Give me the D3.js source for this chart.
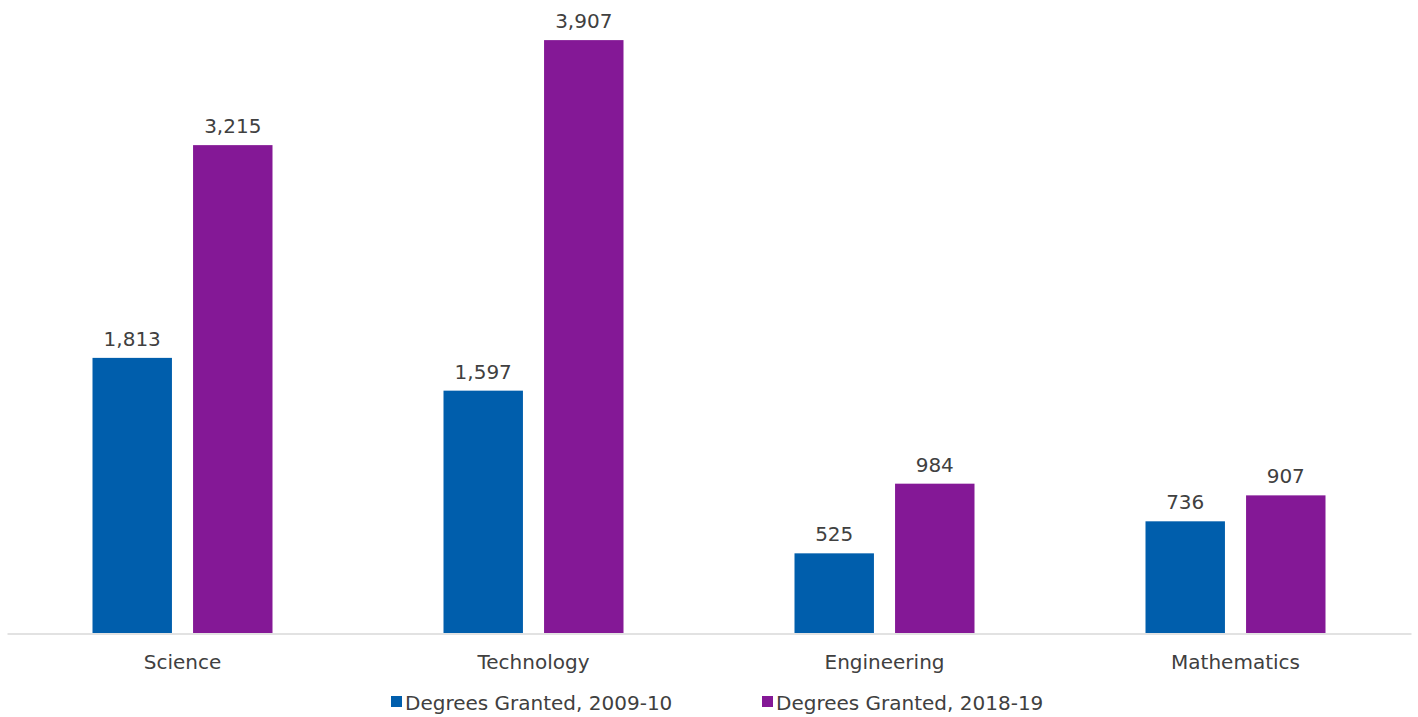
<!DOCTYPE html>
<html>
<head>
<meta charset="utf-8">
<script src="https://cdn.jsdelivr.net/npm/d3@7"></script>
<style>
  body { margin: 0; background: #fff; }
  svg { font-family: "DejaVu Sans", "Liberation Sans", sans-serif; }
</style>
</head>
<body>
<div id="chart"></div>
<script>
const categories = ['Science', 'Technology', 'Engineering', 'Mathematics'];
const seriesNames = ['Degrees Granted, 2009-10', 'Degrees Granted, 2018-19'];
const degrees0910 = [1813, 1597, 525, 736];
const degrees1819 = [3215, 3907, 984, 907];

const colors = ['#005eac', '#841896'];

const width = 1418;
const height = 717;
const margin = {top: 26, bottom: 84, left: 7, right: 7};

const data = categories.map((c, i) => ({
    category: c,
    values: [degrees0910[i], degrees1819[i]]
}));

const svg = d3.select('#chart')
.append('svg')
.attr('width', width)
.attr('height', height)
.attr('viewBox', [0, 0, width, height]);

const x = d3.scaleBand()
.domain(categories)
.range([margin.left, width - margin.right]);

const x1 = d3.scaleBand()
.domain([0, 1])
.range([x.bandwidth() / 2 - 90, x.bandwidth() / 2 + 90])
.paddingInner(0.21);

const y = d3.scaleLinear()
.domain([0, 4000])
.range([height - margin.bottom, margin.top]);

const groups = svg.append('g')
.selectAll('g')
.data(data)
.join('g')
.attr('transform', d => `translate(${x(d.category)},0)`);

groups.selectAll('rect')
.data(d => d.values)
.join('rect')
.attr('x', (d, i) => x1(i))
.attr('y', d => y(d))
.attr('width', x1.bandwidth())
.attr('height', d => y(0) - y(d))
.attr('fill', (d, i) => colors[i]);

groups.selectAll('text.val')
.data(d => d.values)
.join('text')
.attr('class', 'val')
.attr('x', (d, i) => x1(i) + x1.bandwidth() / 2)
.attr('y', d => y(d) - 12)
.attr('text-anchor', 'middle')
.attr('font-size', '20px')
.attr('fill', '#404040')
.text(d => d3.format(',')(d));

function xAxis(g){
    g.attr('transform', `translate(0, ${height - margin.bottom + 0.5})`)
    .call(d3.axisBottom(x).tickSize(0).tickPadding(21))
    .attr('font-size', '20px')
    .attr('font-family', null);
    g.select('.domain').attr('stroke', '#d9d9d9').attr('stroke-width', 1.5);
    g.selectAll('text').attr('fill', '#404040');
}
svg.append('g').call(xAxis);

const legend = svg.append('g');
const legendX = [391, 762];
seriesNames.forEach((name, i) => {
    legend.append('rect')
    .attr('x', legendX[i])
    .attr('y', 696)
    .attr('width', 11)
    .attr('height', 11)
    .attr('fill', colors[i]);
    legend.append('text')
    .attr('x', legendX[i] + 14)
    .attr('y', 710)
    .attr('font-size', '20px')
    .attr('fill', '#404040')
    .text(name);
});
</script>
</body>
</html>
